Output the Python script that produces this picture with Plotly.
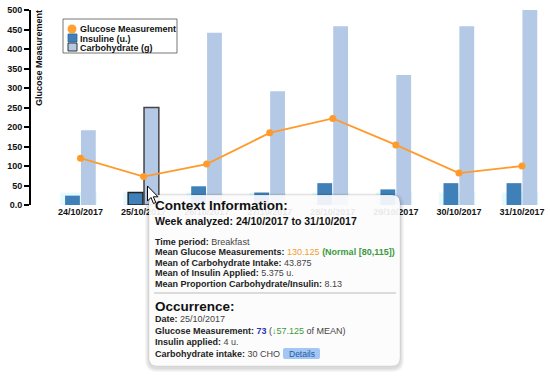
import plotly.graph_objects as go

# ---------------- data ----------------
dates = ["24/10/2017", "25/10/2017", "26/10/2017", "27/10/2017",
         "28/10/2017", "29/10/2017", "30/10/2017", "31/10/2017"]
glucose = [120, 73, 105, 185, 222, 154, 82, 100]          # mg/dL
insulin_u = [3, 4, 6, 4, 7, 5, 7, 7]                      # units
carbs_g = [23, 30, 53, 35, 55, 40, 55, 60]                # grams
band = [32, 32, 32, 32, 32, 32, 32, 32]                   # pale highlight band
y_ticks = [0, 50, 100, 150, 200, 250, 300, 350, 400, 450, 500]
y_ticktext = ["0.0", "50", "100", "150", "200", "250", "300", "350", "400", "450", "500"]
selected = 1  # 25/10/2017

INSULIN_SCALE = 8.0
CARB_SCALE = 500.0 / 60.0
insulin_plot = [u * INSULIN_SCALE for u in insulin_u]
carbs_plot = [c * CARB_SCALE for c in carbs_g]

mean_glu = sum(glucose) / len(glucose)
mean_carb = sum(carbs_g) / len(carbs_g)
mean_ins = sum(insulin_u) / len(insulin_u)
mean_ratio = sum(c / i for c, i in zip(carbs_g, insulin_u)) / len(carbs_g)

FONT = "Liberation Sans"
ORANGE = "#ff9a2b"
INS_COL = "#3f80b9"
CARB_COL = "#b4c9e6"

# ---------------- pixel helpers (screen coords) ----------------
W, H = 550, 376
L, R, T, B = 31, 550, 10, 205


def xp(px):
    return (px - L) / (R - L)


def yp(py):
    return (B - py) / (B - T)


def rrect(x0, y0, x1, y1, r):
    pts = [("M", x0 + r, y0), ("L", x1 - r, y0), ("Q", x1, y0, x1, y0 + r),
           ("L", x1, y1 - r), ("Q", x1, y1, x1 - r, y1), ("L", x0 + r, y1),
           ("Q", x0, y1, x0, y1 - r), ("L", x0, y0 + r), ("Q", x0, y0, x0 + r, y0)]
    s = ""
    for p in pts:
        cmd = p[0]
        coords = p[1:]
        parts = []
        for i in range(0, len(coords), 2):
            parts.append(f"{xp(coords[i]):.5f},{yp(coords[i+1]):.5f}")
        s += cmd + " ".join(parts) + " "
    return s + "Z"


def poly(points):
    s = "M" + " L".join(f"{xp(x):.5f},{yp(y):.5f}" for x, y in points)
    return s + " Z"


fig = go.Figure()

fig.add_trace(go.Bar(
    x=dates, y=band, offset=-0.32, width=0.58,
    marker=dict(color="rgba(200,242,250,0.45)", line=dict(width=0)),
    showlegend=False, hoverinfo="skip"))

ins_line_w = [1.5 if i == selected else 0 for i in range(len(dates))]
fig.add_trace(go.Bar(
    x=dates, y=insulin_plot, offset=-0.245, width=0.235, name="Insuline (u.)",
    marker=dict(color=INS_COL, line=dict(color="#222222", width=ins_line_w)),
    showlegend=False, hoverinfo="skip"))

fig.add_trace(go.Bar(
    x=dates, y=carbs_plot, offset=0.007, width=0.235, name="Carbohydrate (g)",
    marker=dict(color=CARB_COL, line=dict(color="#444444", width=ins_line_w)),
    showlegend=False, hoverinfo="skip"))

fig.add_trace(go.Scatter(
    x=dates, y=glucose, mode="lines+markers", name="Glucose Measurement",
    line=dict(color=ORANGE, width=1.8),
    marker=dict(color=ORANGE, size=7),
    showlegend=False, hoverinfo="skip", cliponaxis=False))

shapes = []
annotations = []

# ---------------- manual legend ----------------
shapes.append(dict(type="rect", xref="paper", yref="paper",
                   x0=xp(63), x1=xp(177), y0=yp(19), y1=yp(53),
                   line=dict(color="#777777", width=1), fillcolor="white", layer="above"))
shapes.append(dict(type="circle", xref="paper", yref="paper",
                   x0=xp(67.5), x1=xp(76.5), y0=yp(24.5), y1=yp(33.5),
                   line=dict(width=0), fillcolor="#ffa033", layer="above"))
shapes.append(dict(type="rect", xref="paper", yref="paper",
                   x0=xp(68), x1=xp(77), y0=yp(34), y1=yp(42),
                   line=dict(color="#2d6496", width=0.8), fillcolor=INS_COL, layer="above"))
shapes.append(dict(type="rect", xref="paper", yref="paper",
                   x0=xp(68), x1=xp(77), y0=yp(43), y1=yp(51),
                   line=dict(color="#333333", width=1), fillcolor=CARB_COL, layer="above"))
for txt, yy in [("Glucose Measurement", 29), ("Insuline (u.)", 38.5), ("Carbohydrate (g)", 47.5)]:
    annotations.append(dict(text=txt, xref="paper", yref="paper", x=xp(78), y=yp(yy),
                            xanchor="left", yanchor="middle", showarrow=False,
                            font=dict(family=FONT, size=9, color="#111111", weight="bold")))

# y axis title (placed at top like the reference)
annotations.append(dict(text="Glucose Measurement", xref="paper", yref="paper",
                        x=xp(39), y=yp(58), textangle=-90, xanchor="center", yanchor="middle",
                        showarrow=False,
                        font=dict(family=FONT, size=9, color="#111111", weight="bold")))

# ---------------- tooltip ----------------
tx0, ty0, tx1, ty1 = 149, 195, 400, 366
for k, a in enumerate([0.035, 0.035, 0.035, 0.035]):
    e = 4 - k
    shapes.append(dict(type="path", xref="paper", yref="paper",
                       path=rrect(tx0 - e, ty0 - e + 2, tx1 + e, ty1 + e + 2, 8 + e),
                       fillcolor=f"rgba(0,0,0,{a})", line=dict(width=0), layer="above"))
shapes.append(dict(type="path", xref="paper", yref="paper",
                   path=rrect(tx0, ty0, tx1, ty1, 8),
                   fillcolor="rgba(255,255,255,0.9)",
                   line=dict(color="rgba(0,0,0,0.12)", width=0.6), layer="above"))
shapes.append(dict(type="line", xref="paper", yref="paper",
                   x0=xp(154), x1=xp(396), y0=yp(293), y1=yp(293),
                   line=dict(color="#bbbbbb", width=1), layer="above"))
# details button
shapes.append(dict(type="path", xref="paper", yref="paper",
                   path=rrect(283, 348, 320, 359, 2),
                   fillcolor="#a3c6f5", line=dict(width=0), layer="above"))


def ann(text, x, y, size, weight="normal", color="#222222"):
    annotations.append(dict(text=text, xref="paper", yref="paper", x=xp(x), y=yp(y),
                            xanchor="left", yanchor="middle", showarrow=False,
                            font=dict(family=FONT, size=size, color=color, weight=weight)))


V = "#444444"
ann("Context Information:", 153, 205, 13.5, "bold", "#111111")
ann(f"Week analyzed: {dates[0]} to {dates[-1]}", 153, 220.5, 10.5, "bold", "#111111")
ann(f"<b>Time period:</b> <span style='color:{V}'>Breakfast</span>", 153, 241.5, 9)
ann(f"<b>Mean Glucose Measurements:</b> <span style='color:#f0a030'>{mean_glu:g}</span> "
    f"<b><span style='color:#3c9a3c'>(Normal [80,115])</span></b>", 153, 252, 9)
ann(f"<b>Mean of Carbohydrate Intake:</b> <span style='color:{V}'>{mean_carb:g}</span>", 153, 262.5, 9)
ann(f"<b>Mean of Insulin Applied:</b> <span style='color:{V}'>{mean_ins:g} u.</span>", 153, 273, 9)
ann(f"<b>Mean Proportion Carbohydrate/Insulin:</b> <span style='color:{V}'>{mean_ratio:.2f}</span>",
    153, 283.5, 9)
ann("Occurrence:", 153, 306.5, 13.5, "bold", "#111111")
ann(f"<b>Date:</b> <span style='color:{V}'>{dates[selected]}</span>", 153, 318.5, 9)
diff = mean_glu - glucose[selected]
ann(f"<b>Glucose Measurement:</b> <b><span style='color:#2a35b8'>{glucose[selected]}</span></b> "
    f"<span style='color:{V}'>(</span><span style='color:#3c9a3c'>↓{diff:g}</span>"
    f"<span style='color:{V}'> of MEAN)</span>", 153, 330.5, 9)
ann(f"<b>Insulin applied:</b> <span style='color:{V}'>{insulin_u[selected]} u.</span>", 153, 342, 9)
ann(f"<b>Carbohydrate intake:</b> <span style='color:{V}'>{carbs_g[selected]} CHO</span>", 153, 353.5, 9)
annotations.append(dict(text="Details", xref="paper", yref="paper", x=xp(301.5), y=yp(353.5),
                        xanchor="center", yanchor="middle", showarrow=False,
                        font=dict(family=FONT, size=8.5, color="#1d5c9e")))

# mouse cursor
cx, cy = 147.5, 186
cur = [(0, 0), (0, 15), (3.5, 11.5), (6, 17.5), (8.3, 16.5), (5.8, 10.8), (10.5, 10.8)]
shapes.append(dict(type="path", xref="paper", yref="paper",
                   path=poly([(cx + a, cy + b) for a, b in cur]),
                   fillcolor="white", line=dict(color="black", width=1), layer="above"))

fig.update_layout(
    width=W, height=H, autosize=False,
    margin=dict(l=L, r=W - R, t=T, b=H - B, pad=0),
    paper_bgcolor="white", plot_bgcolor="white",
    barmode="overlay", showlegend=False,
    shapes=shapes, annotations=annotations,
    font=dict(family=FONT),
)
fig.update_xaxes(type="category", range=[-0.785, 7.444], showline=False, showgrid=False,
                 zeroline=False, ticks="",
                 tickfont=dict(family=FONT, size=9, color="#111111", weight="bold"))
fig.update_yaxes(range=[0, 500], tickvals=y_ticks, ticktext=y_ticktext,
                 showline=True, linecolor="black", linewidth=2, ticks="outside",
                 ticklen=5, tickwidth=1.5, tickcolor="black", showgrid=False, zeroline=False,
                 ticklabeloverflow="allow",
                 tickfont=dict(family=FONT, size=9, color="#111111", weight="bold"))

fig.write_html("out.html",
               config={"displayModeBar": False, "responsive": False},
               post_script="document.body.style.margin='0';document.body.style.overflow='hidden';")
